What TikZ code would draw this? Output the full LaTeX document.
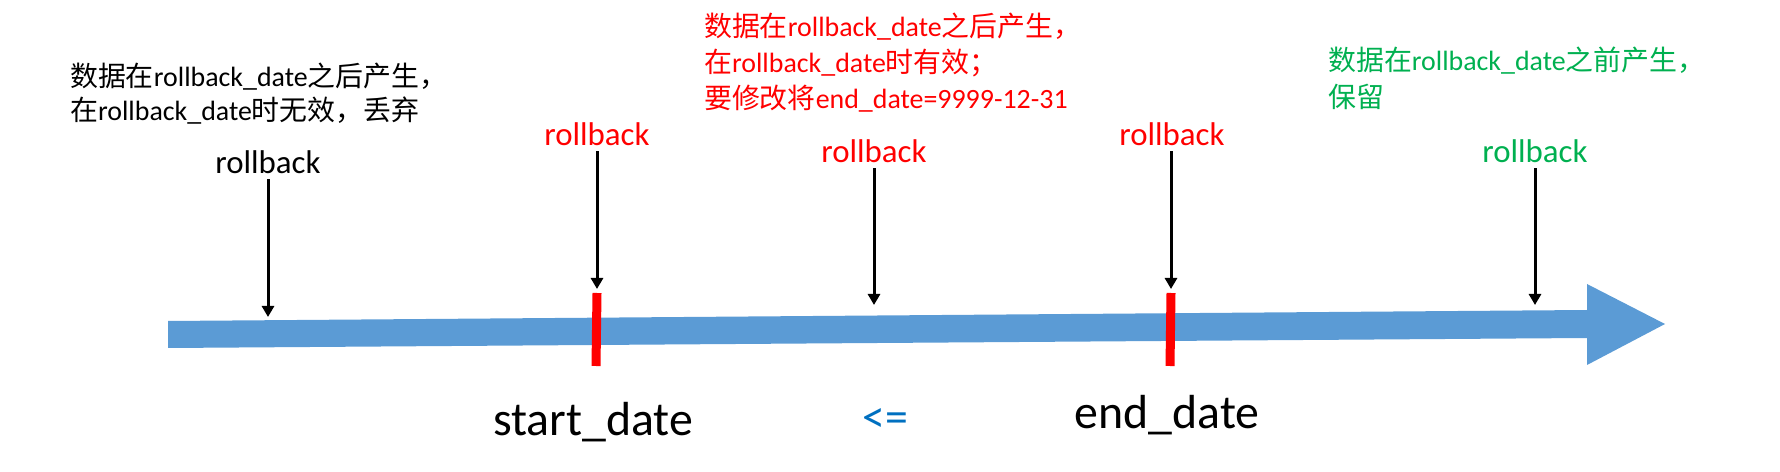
\documentclass[tikz,border=0pt]{standalone}
\usepackage{fontspec}
\setmainfont{Carlito}
\newfontfamily\cjk{Noto Sans CJK SC}
\usetikzlibrary{arrows.meta}
\definecolor{shaftblue}{HTML}{5B9BD5}
\definecolor{redtxt}{HTML}{FF0000}
\definecolor{greentxt}{HTML}{00B050}
\definecolor{bluetxt}{HTML}{0070C0}
\begin{document}
\begin{tikzpicture}[x=1bp,y=-1bp,
  note/.style={anchor=base west, inner sep=0pt, font=\fontsize{28}{36}\selectfont},
  rb/.style={anchor=base, inner sep=0pt, font=\fontsize{33}{40}\selectfont},
  dlabel/.style={anchor=base, inner sep=0pt, font=\fontsize{48}{56}\selectfont},
  ptr/.style={line width=3bp, -{Triangle[length=11bp,width=12bp]}, shorten <=5bp},
  marker/.style={draw=redtxt, line width=9bp}]
\useasboundingbox (0,0) rectangle (1780,472);
% timeline arrow
\fill[shaftblue] (168,321) -- (1587,310) -- (1587,284) -- (1665,324) -- (1587,365) -- (1587,338) -- (168,348) -- cycle;
% red markers
\coordinate (s1top) at (597,293);
\coordinate (s1bot) at (596,366);
\coordinate (s2top) at (1171,293);
\coordinate (s2bot) at (1170,366);
\draw[marker] (s1top) -- (s1bot);
\draw[marker] (s2top) -- (s2bot);
% notes
\node[note] (b1) at (70,87) {{\cjk 数据在}rollback\_date{\cjk 之后产生，}};
\node[note] (b2) at (70,121) {{\cjk 在}rollback\_date{\cjk 时无效，丢弃}};
\node[note, text=redtxt] (m1) at (704,37) {{\cjk 数据在}rollback\_date{\cjk 之后产生，}};
\node[note, text=redtxt] (m2) at (704,73) {{\cjk 在}rollback\_date{\cjk 时有效；}};
\node[note, text=redtxt] (m3) at (704,109) {{\cjk 要修改将}end\_date=9999-12-31};
\node[note, text=greentxt] (g1) at (1328,71) {{\cjk 数据在}rollback\_date{\cjk 之前产生，}};
\node[note, text=greentxt] (g2) at (1328,108) {{\cjk 保留}};
% rollback labels
\node[rb] (r1) at (268,174) {rollback};
\node[rb, text=redtxt] (r2) at (597,146) {rollback};
\node[rb, text=redtxt] (r3) at (874,163) {rollback};
\node[rb, text=redtxt] (r4) at (1172,146) {rollback};
\node[rb, text=greentxt] (r5) at (1535,163) {rollback};
% arrow tips
\coordinate (t1) at (268,317);
\coordinate (t3) at (874,305);
\coordinate (t5) at (1535,305);
\draw[ptr] (r1.south) -- (t1);
\draw[ptr] (r2.south -| s1top) -- ([yshift=4bp]s1top);
\draw[ptr] (r3.south) -- (t3);
\draw[ptr] (r4.south -| s2top) -- ([yshift=4bp]s2top);
\draw[ptr] (r5.south) -- (t5);
% date labels
\node[dlabel] (sd) at (593,435) {start\_date};
\node[dlabel, text=bluetxt, font=\fontsize{46}{54}\selectfont] (le) at (885,432) {<=};
\node[dlabel] (ed) at (1167,428) {end\_date};
\end{tikzpicture}
\end{document}
